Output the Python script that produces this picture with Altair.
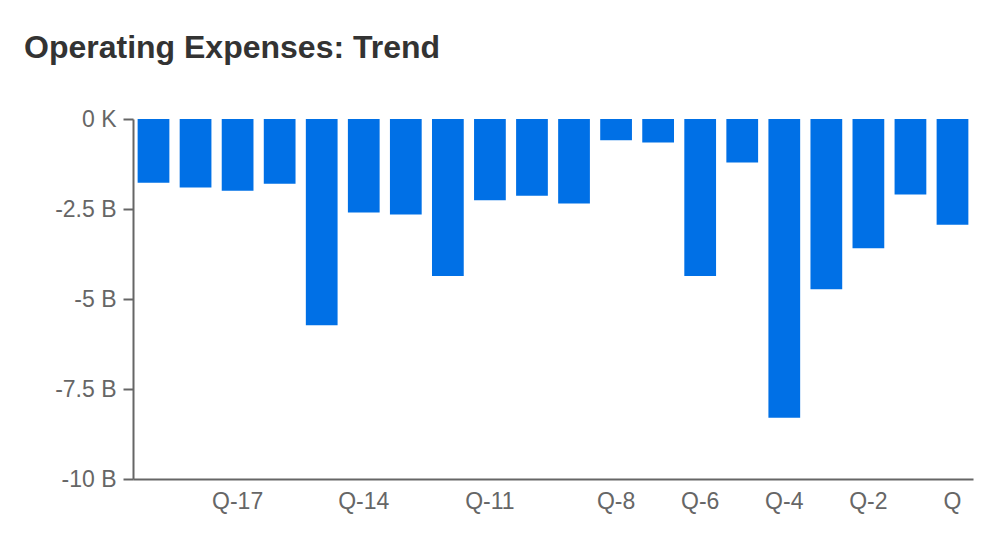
import altair as alt
import pandas as pd

quarters = ["Q-19", "Q-18", "Q-17", "Q-16", "Q-15", "Q-14", "Q-13", "Q-12", "Q-11", "Q-10",
            "Q-9", "Q-8", "Q-7", "Q-6", "Q-5", "Q-4", "Q-3", "Q-2", "Q-1", "Q"]
opex_billions = [-1.77, -1.90, -1.99, -1.80, -5.73, -2.60, -2.65, -4.36, -2.26, -2.13,
                 -2.35, -0.59, -0.65, -4.36, -1.21, -8.30, -4.73, -3.59, -2.10, -2.94]
shown_labels = ["Q-17", "Q-14", "Q-11", "Q-8", "Q-6", "Q-4", "Q-2", "Q"]
y_ticks = [0, -2.5, -5, -7.5, -10]

df = pd.DataFrame({"quarter": quarters, "opex": opex_billions})

FONT = "Liberation Sans"
AXIS_COLOR = "#666666"

chart = alt.Chart(df).mark_bar(color="#0070e6").encode(
    x=alt.X(
        "quarter:N",
        sort=quarters,
        scale=alt.Scale(paddingInner=0.245, paddingOuter=0.11),
        axis=alt.Axis(
            title=None,
            values=shown_labels,
            labelAngle=0,
            ticks=False,
            labelPadding=11,
            labelFontSize=23,
            labelColor=AXIS_COLOR,
            labelFont=FONT,
            domainColor=AXIS_COLOR,
            domainWidth=2,
            grid=False,
        ),
    ),
    y=alt.Y(
        "opex:Q",
        scale=alt.Scale(domain=[-10, 0], nice=False, zero=False),
        axis=alt.Axis(
            title=None,
            values=y_ticks,
            labelExpr="datum.value == 0 ? '0 K' : datum.value + ' B'",
            tickSize=10,
            tickWidth=2,
            tickColor=AXIS_COLOR,
            labelPadding=7,
            labelFontSize=23,
            labelColor=AXIS_COLOR,
            labelFont=FONT,
            domainColor=AXIS_COLOR,
            domainWidth=2,
            grid=False,
        ),
    ),
).properties(
    width=840,
    height=360,
    autosize=alt.AutoSizeParams(type="none"),
    padding={"left": 125, "top": 111, "right": 17, "bottom": 60},
    title=alt.TitleParams(
        "Operating Expenses: Trend",
        anchor="start",
        frame="group",
        dx=-109,
        fontSize=32,
        fontWeight="bold",
        color="#333333",
        font=FONT,
        offset=43,
    ),
).configure_view(stroke=None)

chart.save("out.html", embed_options={"renderer": "svg", "actions": False})
